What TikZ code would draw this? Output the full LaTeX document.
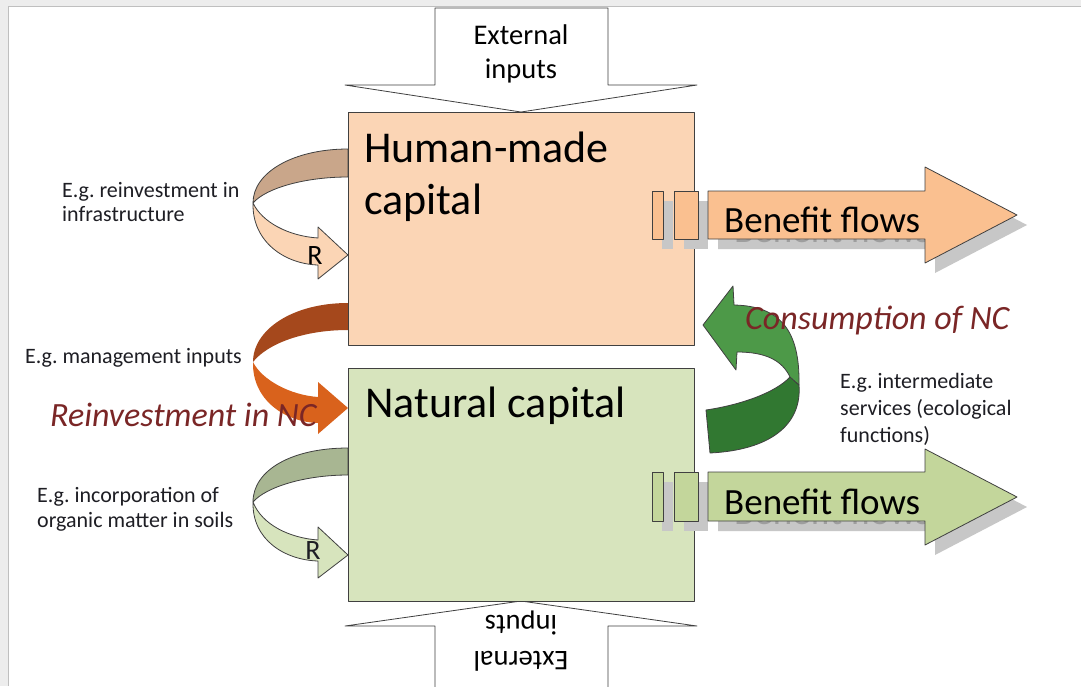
\documentclass[tikz,border=0pt]{standalone}
\usepackage{fontspec}
\setmainfont{Carlito}
\definecolor{hmfill}{HTML}{FBD5B5}
\definecolor{ncfill}{HTML}{D7E4BD}
\definecolor{hmback}{HTML}{C9A68A}
\definecolor{ncback}{HTML}{A8B692}
\definecolor{orback}{HTML}{A5481C}
\definecolor{orfront}{HTML}{D9621C}
\definecolor{grlight}{HTML}{4D9948}
\definecolor{grdark}{HTML}{317831}
\definecolor{bforange}{HTML}{FAC090}
\definecolor{bfgreen}{HTML}{C3D69B}
\definecolor{redtext}{HTML}{7A2626}
\definecolor{labelc}{HTML}{1E1E24}
\definecolor{edgec}{HTML}{404040}
\tikzset{
  outl/.style={draw=edgec,line width=0.8pt,line join=round},
  lbl/.style={inner sep=0pt,anchor=base west,text=labelc,font=\fontsize{22}{26}\selectfont},
  bigt/.style={inner sep=0pt,anchor=base west,text=black,font=\fontsize{44}{55}\selectfont},
  bft/.style={inner sep=0pt,anchor=base west,font=\fontsize{37}{44}\selectfont},
  emt/.style={inner sep=0pt,anchor=base west,text=redtext,font=\fontsize{34}{40}\selectfont\itshape},
  ext/.style={inner sep=0pt,anchor=base,text=black,font=\fontsize{28.5}{35}\selectfont},
  rlab/.style={inner sep=0pt,anchor=center,font=\fontsize{28}{32}\selectfont},
  shad/.style={fill=black!22},
}
\begin{document}
\begin{tikzpicture}[x=1pt,y=-1pt]
\clip (0,0) rectangle (1081,686);
\fill[white] (0,0) rectangle (1081,686);
% frame strips
\fill[black!7] (0,0) rectangle (1081,6);
\fill[black!7] (0,0) rectangle (8,686);
\draw[black!25,line width=0.8pt] (8,686) -- (8,6) -- (1081,6);

% external input arrows
\draw[outl,fill=white] (435,8) -- (608,8) -- (608,85) -- (697,85) -- (521,112) -- (345,85) -- (435,85) -- cycle;
\draw[outl,fill=white] (435,690) -- (435,626) -- (345,626) -- (521,601) -- (697,626) -- (608,626) -- (608,690);

% top-left R arrow
\draw[outl,fill=hmback] (348,149) .. controls (294,149) and (253,172) .. (253,203) .. controls (266,188) and (305,177) .. (348,177) -- cycle;
\draw[outl,fill=hmfill] (253,203) .. controls (252,242) and (285,264) .. (318,265) -- (318,279) -- (348,255) -- (318,227) -- (318,238) .. controls (288,236) and (262,222) .. (253,203) -- cycle;

% orange reinvestment arrow
\fill[orback] (348,303) .. controls (292,303) and (253,330) .. (253,362) .. controls (268,343) and (305,330) .. (348,330) -- cycle;
\fill[orfront] (253,362) .. controls (252,400) and (285,422) .. (318,423) -- (318,434) -- (348,408) -- (318,382) -- (318,397) .. controls (290,395) and (262,380) .. (253,362) -- cycle;

% bottom-left R arrow
\draw[outl,fill=ncback] (348,448) .. controls (292,448) and (253,470) .. (253,502) .. controls (266,487) and (305,475) .. (348,475) -- cycle;
\draw[outl,fill=ncfill] (253,502) .. controls (252,540) and (285,560) .. (318,561) -- (318,578) -- (348,555) -- (318,527) -- (318,540) .. controls (290,538) and (262,525) .. (253,502) -- cycle;

% boxes
\draw[outl,fill=hmfill] (348,112) rectangle (694,345);
\draw[outl,fill=ncfill] (348,368) rectangle (694,601);

% benefit flows top: shadow
\begin{scope}[shift={(10,10)}]
  \fill[shad] (652,191) rectangle (663,239);
  \fill[shad] (674,191) rectangle (698,239);
  \fill[shad] (708,191) -- (925,191) -- (925,167) -- (1017,215) -- (925,263) -- (925,239) -- (708,239) -- cycle;
  \node[bft,text=black!38] (bfts) at (724,232) {Benefit flows};
\end{scope}
\draw[outl,fill=bforange] (652,191) rectangle (663,239);
\draw[outl,fill=bforange] (674,191) rectangle (698,239);
\draw[outl,fill=bforange] (708,191) -- (925,191) -- (925,167) -- (1017,215) -- (925,263) -- (925,239) -- (708,239) -- cycle;
\node[bft] (bft) at (724,232) {Benefit flows};

% benefit flows bottom: shadow
\begin{scope}[shift={(10,10)}]
  \fill[shad] (652,472) rectangle (663,521);
  \fill[shad] (674,472) rectangle (698,521);
  \fill[shad] (708,472) -- (925,472) -- (925,449) -- (1017,497) -- (925,545) -- (925,521) -- (708,521) -- cycle;
  \node[bft,text=black!38] (bfbs) at (724,514) {Benefit flows};
\end{scope}
\draw[outl,fill=bfgreen] (652,472) rectangle (663,521);
\draw[outl,fill=bfgreen] (674,472) rectangle (698,521);
\draw[outl,fill=bfgreen] (708,472) -- (925,472) -- (925,449) -- (1017,497) -- (925,545) -- (925,521) -- (708,521) -- cycle;
\node[bft] (bfb) at (724,514) {Benefit flows};

% green consumption arrow
\draw[outl,fill=grdark] (790,377) -- (799,385) .. controls (802,425) and (770,450) .. (710,453) -- (706,410) .. controls (740,405) and (775,393) .. (790,377) -- cycle;
\draw[outl,fill=grlight] (703,325) -- (733,286) -- (734,305) .. controls (780,306) and (800,330) .. (799,385) -- (790,377) .. controls (782,360) and (765,352) .. (737,352) -- (736,370) -- cycle;

% texts
\node[ext] (ext1) at (521,44) {External};
\node[ext] (ext2) at (521,78) {inputs};
\node[ext,rotate=180] (ext3) at (521,615) {inputs};
\node[ext,rotate=180] (ext4) at (521,651) {External};

\node[bigt] (hm1) at (364,162) {Human-made};
\node[bigt] (hm2) at (364,214) {capital};
\node[bigt] (nc) at (365,417) {Natural capital};

\node[lbl] (l1) at (62,197) {E.g.\ reinvestment in};
\node[lbl] (l2) at (62,221) {infrastructure};
\node[lbl] (l3) at (25,363) {E.g.\ management inputs};
\node[lbl] (l4) at (37,502) {E.g.\ incorporation of};
\node[lbl] (l5) at (37,527) {organic matter in soils};
\node[lbl] (l6) at (840,388) {E.g.\ intermediate};
\node[lbl] (l7) at (840,415) {services (ecological};
\node[lbl] (l8) at (840,442) {functions)};

\node[emt] (rein) at (50,426) {Reinvestment in NC};
\node[emt] (cons) at (745,329) {Consumption of NC};

\node[rlab] (r1) at (315,256) {R};
\node[rlab,text=labelc] (r2) at (313,551) {R};
\end{tikzpicture}
\end{document}
